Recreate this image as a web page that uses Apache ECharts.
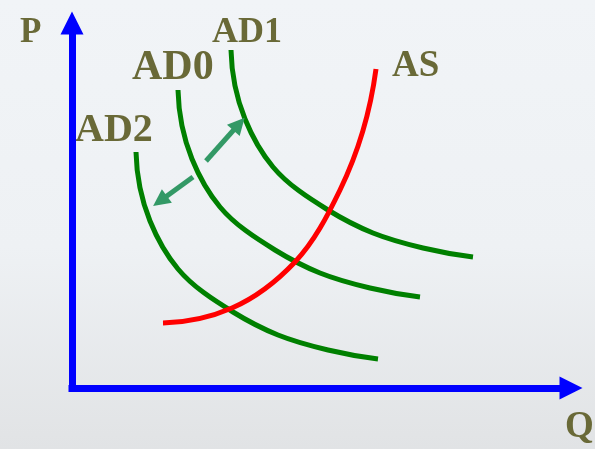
<!DOCTYPE html>
<html>
<head>
<meta charset="utf-8">
<script src="https://cdn.jsdelivr.net/npm/echarts@6/dist/echarts.min.js"></script>
<style>
  html, body { margin: 0; padding: 0; }
  #chart { width: 595px; height: 449px; }
</style>
</head>
<body>
<div id="chart"></div>
<script>
// curve points, [Q, P]
var ad0 = [[106, 298], [120, 229], [148, 181], [203, 138], [248, 115], [298, 100], [348, 91]];
var ad1 = [[159, 338], [173, 269], [201, 221], [256, 178], [301, 155], [351, 140], [401, 131]];
var ad2 = [[64, 236], [78, 167], [106, 119], [161, 76], [206, 53], [256, 38], [306, 29]];
var as = [[91, 65], [160, 80], [223, 126], [268, 198], [304, 319]];
// shift arrow (two halves, pointing outwards)
var shiftUp = [[134, 227], [167, 264]];
var shiftDown = [[121, 211], [88, 187]];

var olive = '#696937';
var serif = '"Liberation Serif", "DejaVu Serif", serif';

function label(txt, x, y, size) {
    return {
        type: 'text',
        style: {
            text: txt, x: x, y: y,
            font: 'bold ' + size + 'px ' + serif,
            fill: olive,
            textAlign: 'left',
            textVerticalAlign: 'middle'
        }
    };
}

function unit(v) {
    var l = Math.sqrt(v[0] * v[0] + v[1] * v[1]) || 1;
    return [v[0] / l, v[1] / l];
}
function dist(a, b) {
    return Math.sqrt((a[0] - b[0]) * (a[0] - b[0]) + (a[1] - b[1]) * (a[1] - b[1]));
}

// smooth path through the given pixel points (cubic pieces, Bessel tangents)
function smoothPath(pts) {
    var n = pts.length, tan = [], i;
    for (i = 1; i < n - 1; i++) {
        var h0 = dist(pts[i - 1], pts[i]), h1 = dist(pts[i], pts[i + 1]);
        var u0 = unit([pts[i][0] - pts[i - 1][0], pts[i][1] - pts[i - 1][1]]);
        var u1 = unit([pts[i + 1][0] - pts[i][0], pts[i + 1][1] - pts[i][1]]);
        tan[i] = unit([u0[0] * h1 + u1[0] * h0, u0[1] * h1 + u1[1] * h0]);
    }
    var c0 = unit([pts[1][0] - pts[0][0], pts[1][1] - pts[0][1]]);
    tan[0] = unit([2 * c0[0] - tan[1][0], 2 * c0[1] - tan[1][1]]);
    var c1 = unit([pts[n - 1][0] - pts[n - 2][0], pts[n - 1][1] - pts[n - 2][1]]);
    tan[n - 1] = unit([2 * c1[0] - tan[n - 2][0], 2 * c1[1] - tan[n - 2][1]]);
    var d = 'M' + pts[0][0] + ' ' + pts[0][1];
    for (i = 0; i < n - 1; i++) {
        var a = pts[i], b = pts[i + 1], k = dist(a, b) / 3;
        d += ' C' + (a[0] + tan[i][0] * k) + ' ' + (a[1] + tan[i][1] * k) + ' ' +
            (b[0] - tan[i + 1][0] * k) + ' ' + (b[1] - tan[i + 1][1] * k) + ' ' +
            b[0] + ' ' + b[1];
    }
    return d;
}

function curve(name, data, color) {
    return {
        name: name,
        type: 'custom',
        coordinateSystem: 'cartesian2d',
        silent: true,
        data: data,
        renderItem: function (params, api) {
            if (params.dataIndex !== 0) return null;
            var pts = data.map(function (p) { return api.coord(p); });
            return {
                type: 'path',
                shape: { pathData: smoothPath(pts) },
                style: { stroke: color, lineWidth: 5, fill: 'none' }
            };
        }
    };
}

var axisLine = {
    show: true,
    symbol: ['none', 'triangle'],
    symbolSize: [23, 23],
    lineStyle: { color: '#0000ff', width: 7, cap: 'square' }
};

var chart = echarts.init(document.getElementById('chart'));
chart.setOption({
    animation: false,
    backgroundColor: {
        type: 'linear', x: 0, y: 0, x2: 0, y2: 1,
        colorStops: [
            { offset: 0, color: '#f1f4f7' },
            { offset: 0.55, color: '#eef1f4' },
            { offset: 1, color: '#e1e3e5' }
        ]
    },
    grid: { left: 72, right: 24, top: 23, bottom: 61 },
    xAxis: {
        type: 'value', min: 0, max: 499,
        axisLine: axisLine,
        axisTick: { show: false },
        axisLabel: { show: false },
        splitLine: { show: false }
    },
    yAxis: {
        type: 'value', min: 0, max: 365,
        axisLine: axisLine,
        axisTick: { show: false },
        axisLabel: { show: false },
        splitLine: { show: false }
    },
    series: [
        curve('AD2', ad2, '#008000'),
        curve('AD0', ad0, '#008000'),
        curve('AD1', ad1, '#008000'),
        curve('AS', as, '#ff0000'),
        {
            type: 'lines',
            coordinateSystem: 'cartesian2d',
            silent: true,
            symbol: ['none', 'triangle'],
            symbolSize: 17,
            lineStyle: { color: '#339966', width: 5, opacity: 1, curveness: 0 },
            data: [{ coords: shiftUp }, { coords: shiftDown }]
        }
    ],
    graphic: [
        label('P', 20, 33, 35),
        label('AD1', 212, 33, 36),
        label('AD0', 132, 68, 42),
        label('AD2', 75, 131, 40),
        label('AS', 392, 66, 37),
        label('Q', 565, 427, 37)
    ]
});
</script>
</body>
</html>
